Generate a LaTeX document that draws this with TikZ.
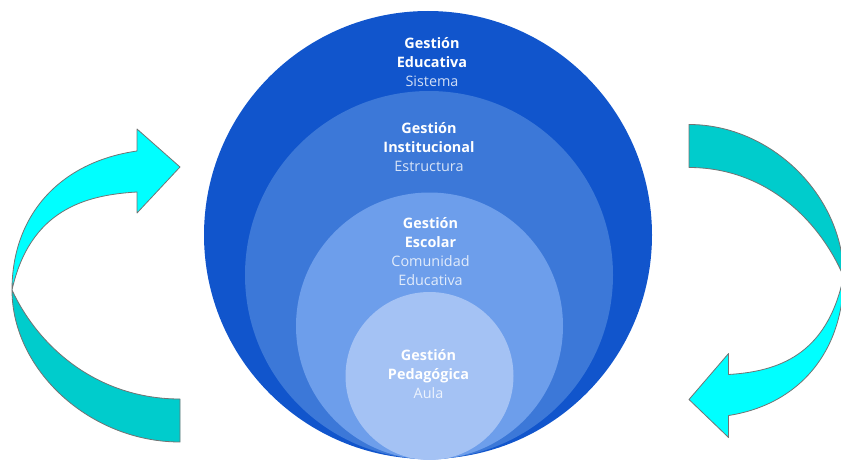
\documentclass[tikz,border=0pt]{standalone}
\usepackage{fontspec}
\setmainfont{Open Sans}
\usepackage{tikz}

\definecolor{blueA}{HTML}{1155CC}
\definecolor{blueB}{HTML}{3C78D8}
\definecolor{blueC}{HTML}{6D9EEB}
\definecolor{blueD}{HTML}{A4C2F4}
\definecolor{cyanHead}{HTML}{00FFFF}
\definecolor{cyanTail}{HTML}{00CCCC}

\newcommand{\lite}[2]{{\mdseries\color{white!80!#1}#2}}

\begin{document}
\begin{tikzpicture}[x=0.5pt,y=-0.5pt,
    ring/.style={circle,inner sep=0pt,minimum size=#1},
    txt/.style={align=center,text=white,inner sep=0pt,
        font={\fontsize{7.2}{9.5}\selectfont\bfseries}},
    band/.style={draw=black!55,line width=0.4pt,line join=round}
]
    \useasboundingbox (0,0) rectangle (841,460);

    % nested circles, all touching at the bottom
    \node [ring=224pt,fill=blueA] (sistema) at (428,235) {};
    \node [ring=184pt,fill=blueB] (estructura) at (429,275) {};
    \node [ring=133.5pt,fill=blueC] (comunidad) at (429.5,326) {};
    \node [ring=84pt,fill=blueD] (aula) at (429.5,376) {};

    \node [txt] (t1) at (432,62) {Gestión\\Educativa\\\lite{blueA}{Sistema}};
    \node [txt] (t2) at (429,147) {Gestión\\Institucional\\\lite{blueB}{Estructura}};
    \node [txt] (t3) at (430.5,252) {Gestión\\Escolar\\\lite{blueC}{Comunidad}\\\lite{blueC}{Educativa}};
    \node [txt] (t4) at (428.5,374) {Gestión\\Pedagógica\\\lite{blueD}{Aula}};

    % the two curved arrows, the right one is the left one turned round
    \def\twistarrow{
        \draw [band,fill=cyanTail] (12,290) .. controls (12,370) and (90,442) .. (180,442)
            -- (180,399) .. controls (100,399) and (40,350) .. (12,290) -- cycle;
        \draw [band,fill=cyanHead] (12,290) .. controls (12,215) and (60,162) .. (137,151)
            -- (137,129) -- (180,167) -- (137,213) -- (137,192)
            .. controls (85,195) and (30,210) .. (12,290) -- cycle;
    }
    \begin{scope}
        \twistarrow
    \end{scope}
    \begin{scope}
        \clip (0,0) rectangle (841,460);
        \begin{scope}[shift={(854.6,566.5)},xscale=-0.92,yscale=-1]
            \twistarrow
        \end{scope}
    \end{scope}
\end{tikzpicture}
\end{document}
